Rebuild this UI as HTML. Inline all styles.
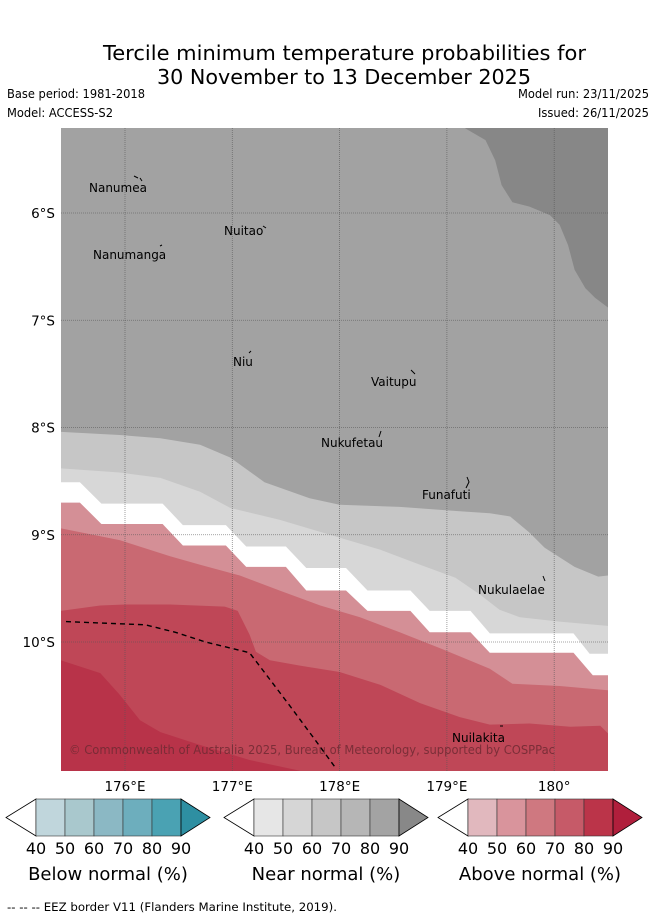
<!DOCTYPE html>
<html><head><meta charset="utf-8"><style>
html,body{margin:0;padding:0;background:#fff;}
svg{display:block;font-family:"DejaVu Sans","Liberation Sans",sans-serif;}
</style></head><body>
<svg id="chart" width="655" height="919" viewBox="0 0 655 919" xmlns="http://www.w3.org/2000/svg">
<text x="344.5" y="60" font-size="20" text-anchor="middle" textLength="483" lengthAdjust="spacingAndGlyphs">Tercile minimum temperature probabilities for</text>
<text x="344" y="84" font-size="20" text-anchor="middle" textLength="374" lengthAdjust="spacingAndGlyphs">30 November to 13 December 2025</text>
<text x="7" y="98" font-size="12" textLength="138" lengthAdjust="spacingAndGlyphs">Base period: 1981-2018</text>
<text x="7" y="117" font-size="12" textLength="106" lengthAdjust="spacingAndGlyphs">Model: ACCESS-S2</text>
<text x="649" y="98" font-size="12" text-anchor="end" textLength="131" lengthAdjust="spacingAndGlyphs">Model run: 23/11/2025</text>
<text x="649" y="117" font-size="12" text-anchor="end" textLength="111" lengthAdjust="spacingAndGlyphs">Issued: 26/11/2025</text>
<defs><clipPath id="mapclip"><rect x="61" y="128" width="547" height="643"/></clipPath></defs>
<g id="map" clip-path="url(#mapclip)">
<rect x="61" y="128" width="547" height="643" fill="#a2a2a2"/>
</g>
<g id="axes"></g>
<g id="legend"></g>
<text x="7" y="911" font-size="11.5" textLength="330" lengthAdjust="spacingAndGlyphs">--  --  -- EEZ border V11 (Flanders Marine Institute, 2019).</text>
</svg>
<script>
// ---- data (lon in °E, lat in °S) ----
const lonTicks = [176, 177, 178, 179, 180];
const lonTickLabels = ["176°E", "177°E", "178°E", "179°E", "180°"];
const latTicks = [6, 7, 8, 9, 10];
const latTickLabels = ["6°S", "7°S", "8°S", "9°S", "10°S"];

const darkLon = [179.17,179.36,179.45,179.51,179.61,179.77,179.96,180.05,180.13,180.19,180.29,180.38,180.50];
const darkLat = [5.21,5.32,5.51,5.74,5.90,5.94,6.02,6.11,6.30,6.53,6.70,6.79,6.88];

const bndALon = [175.40,175.95,176.33,176.70,176.98,177.30,177.72,178.00,178.56,179.12,179.40,179.59,179.77,179.91,180.19,180.41,180.50];
const bndALat = [8.04,8.07,8.10,8.16,8.28,8.51,8.66,8.72,8.74,8.78,8.80,8.83,8.98,9.12,9.30,9.39,9.38];
const bndBLon = [175.40,175.95,176.33,176.70,176.98,177.44,177.91,178.38,178.75,179.08,179.31,179.49,179.68,180.05,180.50];
const bndBLat = [8.38,8.42,8.47,8.60,8.75,8.86,9.00,9.14,9.28,9.40,9.56,9.70,9.77,9.81,9.85];
const bndCLon = [175.40,175.58,175.78,176.35,176.54,176.94,177.13,177.50,177.69,178.06,178.26,178.66,178.84,179.22,179.40,180.18,180.33,180.50];
const bndCLat = [8.51,8.51,8.71,8.71,8.91,8.91,9.11,9.11,9.31,9.31,9.52,9.52,9.71,9.71,9.92,9.92,10.11,10.11];
const bndDLon = [175.40,175.58,175.78,176.35,176.54,176.94,177.13,177.50,177.69,178.06,178.26,178.66,178.84,179.22,179.40,180.18,180.36,180.50];
const bndDLat = [8.70,8.70,8.90,8.90,9.10,9.10,9.30,9.30,9.52,9.52,9.71,9.71,9.91,9.91,10.10,10.10,10.31,10.31];
const bndELon = [175.40,175.95,176.42,176.70,177.07,177.44,177.82,178.19,178.56,178.94,179.40,179.61,180.05,180.50];
const bndELat = [8.94,9.05,9.20,9.28,9.38,9.52,9.66,9.77,9.91,10.06,10.25,10.39,10.41,10.45];
const bndFLon = [175.40,175.77,176.00,176.42,176.93,177.05,177.16,177.22,177.35,177.63,178.00,178.38,178.75,179.12,179.40,179.77,180.15,180.43,180.50];
const bndFLat = [9.71,9.66,9.65,9.65,9.67,9.71,9.93,10.09,10.17,10.22,10.28,10.40,10.57,10.70,10.77,10.76,10.79,10.78,10.85];
const bndGLon = [175.40,175.77,175.95,176.14,176.33,176.70,177.16,177.63];
const bndGLat = [10.17,10.29,10.49,10.73,10.84,10.96,11.10,11.20];

const eezLon = [175.45,176.19,176.47,176.75,177.16,177.35,177.54,177.77,177.96];
const eezLat = [9.81,9.84,9.91,10.00,10.10,10.35,10.60,10.91,11.17];

const legendTicks = ["40","50","60","70","80","90"];
const belowColors = ["#c0d6dc","#a9c8cd","#8bb8c4","#6daebd","#4aa2b3","#2e8fa2"];
const nearColors = ["#e6e6e6","#d6d6d6","#c6c6c6","#b6b6b6","#a3a3a3","#888888"];
const aboveColors = ["#e1b8be","#d9949c","#cf7880","#c65a68","#bb3449","#b01f3c"];
const legendTitles = ["Below normal (%)","Near normal (%)","Above normal (%)"];

// ---- axis functions ----
const X0 = 125, PXLON = 107.3, Y0 = 213, PXLAT = 107.25;
const LAT_BOTTOM = 11.25, LON_LEFT = 175.3, LON_RIGHT = 180.6, LAT_TOP = 5.1;
function xs(lon){ return X0 + (lon - 176) * PXLON; }
function ys(lat){ return Y0 + (lat - 6) * PXLAT; }
const NS = "http://www.w3.org/2000/svg";
function mk(tag, attrs, parent){ const e = document.createElementNS(NS, tag); for (const k in attrs) e.setAttribute(k, attrs[k]); parent.appendChild(e); return e; }
function pts(lons, lats){ return lons.map((l,i)=> xs(l).toFixed(1)+","+ys(lats[i]).toFixed(1)); }

const mapG = document.getElementById("map");
let p = pts(darkLon, darkLat);
p.push(xs(LON_RIGHT)+","+ys(darkLat[darkLat.length-1]), xs(LON_RIGHT)+","+ys(LAT_TOP), xs(darkLon[0])+","+ys(LAT_TOP));
let el = mk("polygon", {points: p.join(" "), fill: "#878787"}, mapG);



const bands = [
  [bndALon, bndALat, "#c6c6c6", "band-near-60-70"],
  [bndBLon, bndBLat, "#d7d7d7", "band-near-50-60"],
  [bndCLon, bndCLat, "#ffffff", "band-no-dominant"],
  [bndDLon, bndDLat, "#d48f96", "band-above-50-60"],
  [bndELon, bndELat, "#c96972", "band-above-60-70"],
  [bndFLon, bndFLat, "#bf4757", "band-above-70-80"]
];
bands.forEach(b => {
  const q = pts(b[0], b[1]);
  q.push(xs(LON_RIGHT)+","+ys(b[1][b[1].length-1]), xs(LON_RIGHT)+","+ys(LAT_BOTTOM), xs(LON_LEFT)+","+ys(LAT_BOTTOM), xs(LON_LEFT)+","+ys(b[1][0]));
  const e = mk("polygon", {points: q.join(" "), fill: b[2]}, mapG);
  
  
});
p = pts(bndGLon, bndGLat);
p.push(xs(bndGLon[bndGLon.length-1])+","+ys(LAT_BOTTOM), xs(LON_LEFT)+","+ys(LAT_BOTTOM), xs(LON_LEFT)+","+ys(bndGLat[0]));
el = mk("polygon", {points: p.join(" "), fill: "#b83349"}, mapG);



lonTicks.forEach(l => {
  const e = mk("line", {x1: xs(l), x2: xs(l), y1: 128, y2: 771, stroke: "#555", "stroke-width": 0.8, "stroke-dasharray": "1,1", opacity: 0.7}, mapG);
  
  
});
latTicks.forEach(l => {
  const e = mk("line", {x1: 61, x2: 608, y1: ys(l), y2: ys(l), stroke: "#555", "stroke-width": 0.8, "stroke-dasharray": "1,1", opacity: 0.7}, mapG);
  
  
});

el = mk("polyline", {points: pts(eezLon, eezLat).join(" "), fill: "none", stroke: "#000", "stroke-width": 1.4, "stroke-dasharray": "5,4"}, mapG);



const islands = [
  ["Nanumea", 89, 192, "M134,176 L138,178 M140,178 L142,181"],
  ["Nuitao", 224, 235, "M263,226 L266,228"],
  ["Nanumanga", 93, 259, "M160,246 L162,245"],
  ["Niu", 233, 366, "M249,353 L251,351"],
  ["Vaitupu", 371, 386, "M411,370 L415,374"],
  ["Nukufetau", 321, 447, "M379,437 L381,431"],
  ["Funafuti", 422, 499, "M467,477 L469,482 L466,488"],
  ["Nukulaelae", 478, 594, "M543,576 L545,581"],
  ["Nuilakita", 452, 742, "M500,726 L503,726"]
];
islands.forEach(s => {
  const t = mk("text", {x: s[1], y: s[2], "font-size": 12, fill: "#000"}, mapG);
  t.textContent = s[0];
  
  
  const m = mk("path", {d: s[3], stroke: "#000", "stroke-width": 1, fill: "none"}, mapG);
  
  
});
el = mk("text", {x: 69, y: 754, "font-size": 12.5, fill: "#6e2a33", "fill-opacity": 0.85, textLength: 486, lengthAdjust: "spacingAndGlyphs"}, mapG);
el.textContent = "© Commonwealth of Australia 2025, Bureau of Meteorology, supported by COSPPac";



const axesG = document.getElementById("axes");
lonTicks.forEach((l,i) => {
  const t = mk("text", {x: xs(l), y: 791, "font-size": 13.5, "text-anchor": "middle"}, axesG);
  t.textContent = lonTickLabels[i];
  
  
});
latTicks.forEach((l,i) => {
  const t = mk("text", {x: 55, y: ys(l)+5, "font-size": 13.5, "text-anchor": "end"}, axesG);
  t.textContent = latTickLabels[i];
  
  
});

const legendG = document.getElementById("legend");
const legendX = [36, 254, 468];
const palettes = [belowColors, nearColors, aboveColors];
const segW = 29, cbTop = 799, cbBot = 836, cbMid = 817.5;
palettes.forEach((pal, k) => {
  const x0 = legendX[k];
  const g = mk("g", {}, legendG);
  
  
  const w = mk("polygon", {points: `${x0},${cbTop} ${x0-30},${cbMid} ${x0},${cbBot}`, fill: "#fff", stroke: "#000", "stroke-width": 0.8}, g);
  
  
  for (let i = 0; i < 5; i++) {
    const r = mk("rect", {x: x0 + i*segW, y: cbTop, width: segW, height: cbBot-cbTop, fill: pal[i], stroke: "#333", "stroke-width": 0.6}, g);
    
    
  }
  const xe = x0 + 5*segW;
  const a = mk("polygon", {points: `${xe},${cbTop} ${xe+29},${cbMid} ${xe},${cbBot}`, fill: pal[5], stroke: "#000", "stroke-width": 0.8}, g);
  
  
  legendTicks.forEach((tk, i) => {
    const t = mk("text", {x: x0 + i*segW, y: 854, "font-size": 16, "text-anchor": "middle"}, g);
    t.textContent = tk;
    
    
  });
  const tt = mk("text", {x: x0 + 72, y: 880, "font-size": 18, "text-anchor": "middle"}, g);
  tt.textContent = legendTitles[k];
  
  
});
</script>
</body></html>
